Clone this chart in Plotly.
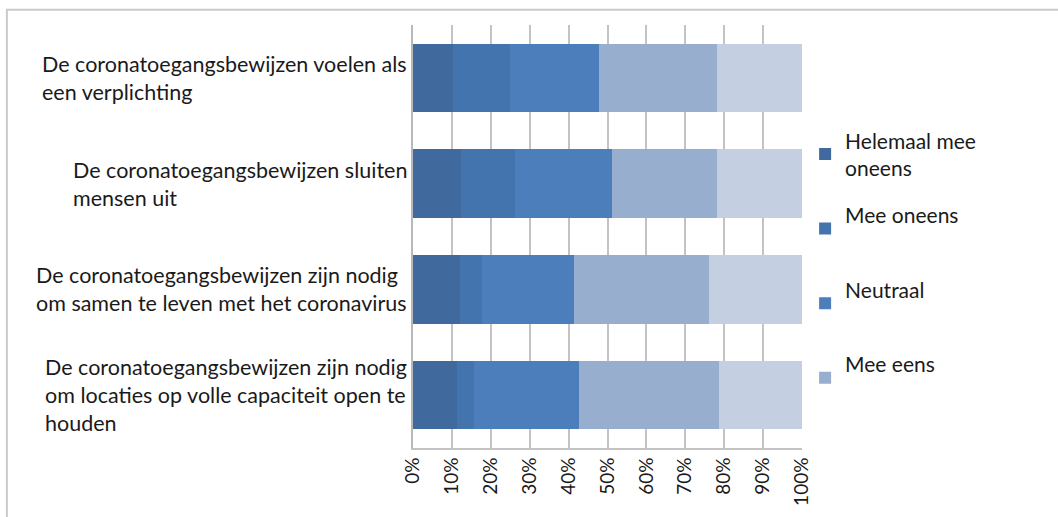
import plotly.graph_objects as go

# statements (top to bottom) and their share per answer, in percent
statements = [
    "De coronatoegangsbewijzen voelen als<br>een verplichting",
    "De coronatoegangsbewijzen sluiten<br>mensen uit",
    "De coronatoegangsbewijzen zijn nodig<br>om samen te leven met het coronavirus",
    "De coronatoegangsbewijzen zijn nodig<br>om locaties op volle capaciteit open te<br>houden",
]
answers = ["Helemaal mee oneens", "Mee oneens", "Neutraal", "Mee eens", "Helemaal mee eens"]
legend_names = ["Helemaal mee<br>oneens", "Mee oneens<br>&nbsp;", "Neutraal<br>&nbsp;", "Mee eens<br>&nbsp;", "Helemaal mee eens"]

helemaal_oneens = [10.2, 12.4, 12.0, 11.3]
oneens = [14.8, 13.9, 5.8, 4.4]
neutraal = [22.9, 24.9, 23.6, 26.9]
eens = [30.3, 27.0, 34.8, 36.0]
helemaal_eens = [21.8, 21.8, 23.8, 21.4]

series = [helemaal_oneens, oneens, neutraal, eens, helemaal_eens]
colors = ["#40699E", "#4474AE", "#4B7EBA", "#98AECF", "#C4CFE2"]

FONT = "Lato, 'Open Sans', sans-serif"
TEXT = "#1a1a1a"
GRID = "#C3C3C3"

fig = go.Figure()
for i, (vals, name) in enumerate(zip(series, answers)):
    fig.add_trace(
        go.Bar(
            x=vals,
            y=statements,
            orientation="h",
            name=legend_names[i],
            legendgroup=name,
            showlegend=i < 4,  # last entry is cut off in the original
            marker=dict(color=colors[i], line=dict(width=0)),
            hovertemplate=name + ": %{x:.1f}%<extra></extra>",
        )
    )

# category labels: left-aligned text block to the left of the axis
for s in statements:
    fig.add_annotation(
        x=-0.01, xref="paper", xanchor="right",
        y=s, yref="y", yanchor="middle",
        text=s, align="left", showarrow=False,
        font=dict(family=FONT, size=21.5, color=TEXT),
    )

# thin outer frame (only top/left edge visible in the original)
fig.add_shape(
    type="rect", xref="paper", yref="paper",
    x0=-1.044, x1=2, y0=1.036, y1=-1,
    line=dict(color="#CACACA", width=2),
)

fig.update_layout(
    width=1058,
    height=517,
    barmode="stack",
    bargap=0.35,
    plot_bgcolor="white",
    paper_bgcolor="white",
    margin=dict(l=413, r=256, t=25, b=69),
    font=dict(family=FONT, size=18, color=TEXT),
    legend=dict(
        x=1.008, xanchor="left",
        y=0.775, yanchor="top",
        traceorder="grouped",
        tracegroupgap=17,
        font=dict(family=FONT, size=21, color=TEXT),
        bgcolor="rgba(0,0,0,0)",
    ),
    xaxis=dict(
        range=[0, 100],
        dtick=10,
        ticksuffix="%",
        tickangle=-90,
        showgrid=True,
        gridcolor=GRID,
        gridwidth=2,
        zeroline=False,
        showline=True,
        linecolor=GRID,
        linewidth=2,
        ticks="",
        tickfont=dict(family=FONT, size=19, color=TEXT),
    ),
    yaxis=dict(
        categoryorder="array",
        categoryarray=statements,
        autorange="reversed",
        showticklabels=False,
        showgrid=False,
        showline=True,
        linecolor="#B8B8B8",
        linewidth=2,
        ticks="",
    ),
)

# drop the browser's default page margin so the figure sits at (0, 0)
fig.write_html(
    "out.html",
    config={"displayModeBar": False},
    post_script="document.body.style.margin='0';",
)
